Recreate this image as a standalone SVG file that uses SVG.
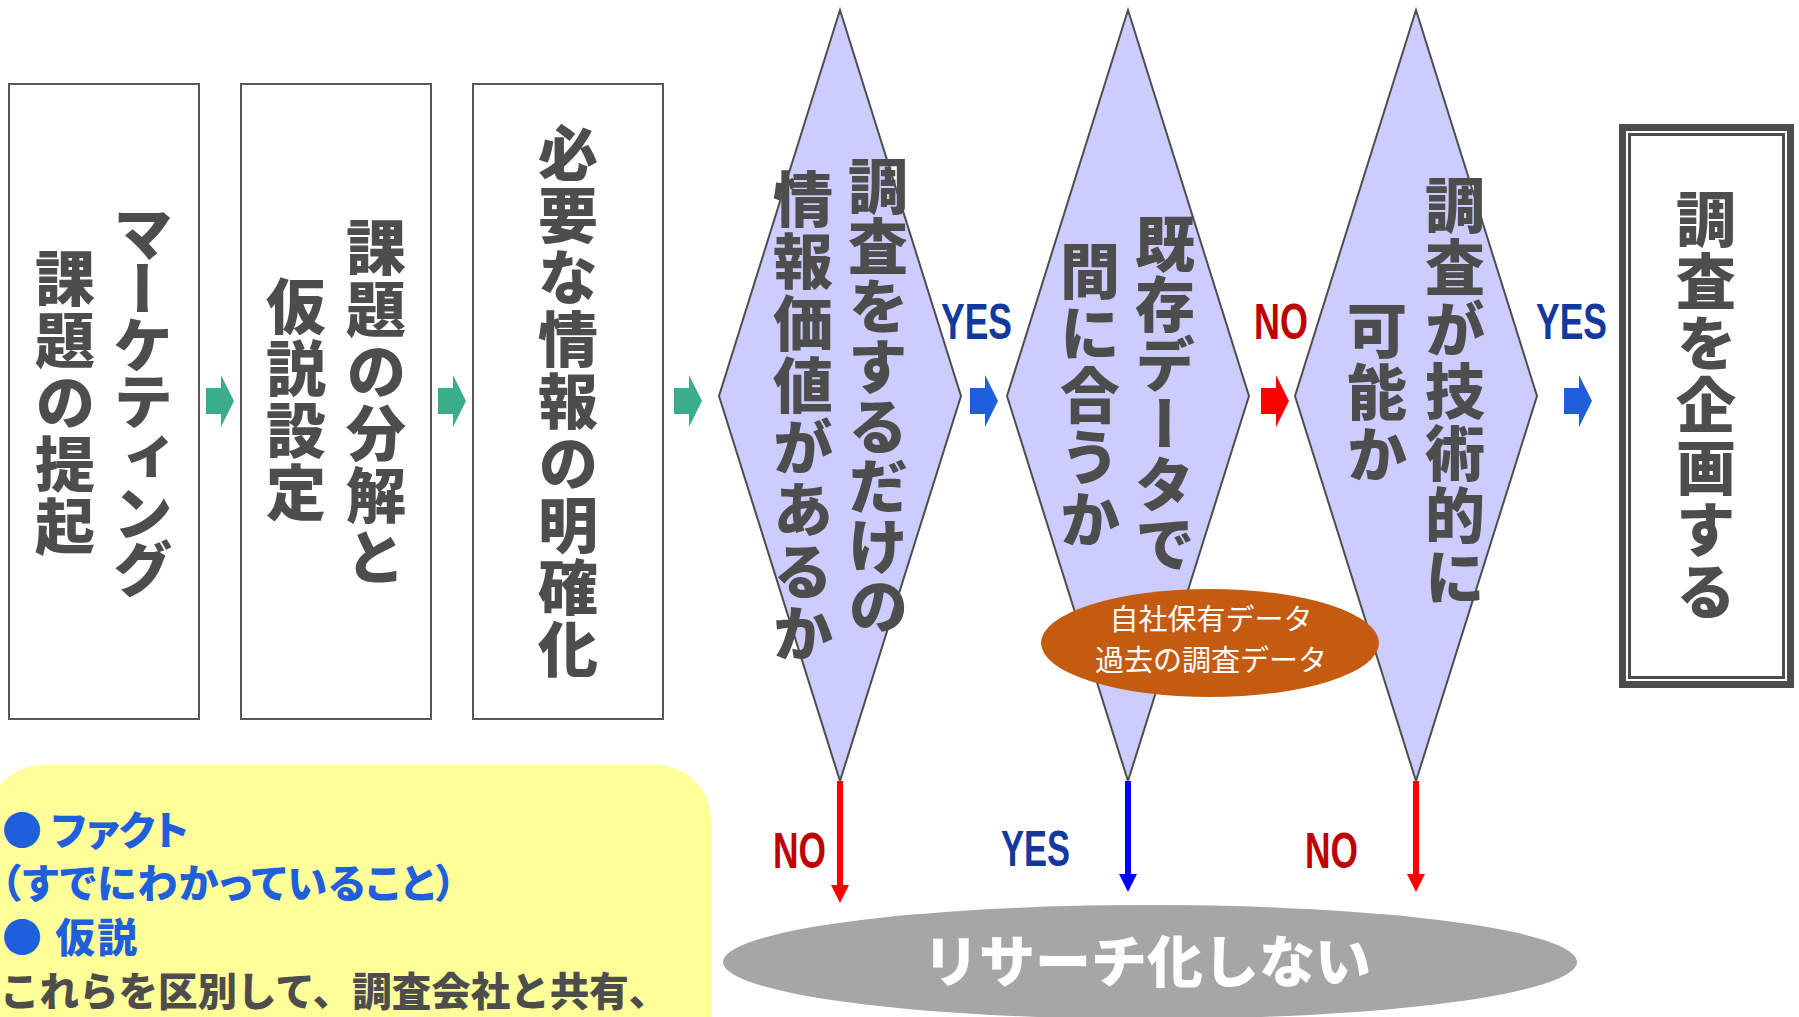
<svg xmlns="http://www.w3.org/2000/svg" width="1799" height="1017" viewBox="0 0 1799 1017">
<style>
.box{fill:#ffffff;stroke:#595959;stroke-width:2}
.dia{fill:#ccccff;stroke:#4d4d4d;stroke-width:2}
.vt{font-family:"Noto Sans CJK JP","Noto Sans CJK SC",sans-serif;font-weight:900;font-size:60px;fill:#4d4d4d;writing-mode:vertical-rl;text-anchor:middle;letter-spacing:2px}
.lbl{font-family:"Liberation Sans",Arial,sans-serif;font-weight:bold;font-size:50px}
.yes{fill:#123a9c}
.no{fill:#c00000}
.note{font-family:"Noto Sans CJK JP","Noto Sans CJK SC",sans-serif;font-weight:900}
.palt{font-feature-settings:"palt" 1}
.w{font-family:"Noto Sans CJK JP","Noto Sans CJK SC",sans-serif;fill:#ffffff}
</style>
<defs>
<path id="blk" d="M0,-13 H15 V-26 L28,0 L15,26 V13 H0 Z"/>
<marker id="hr" viewBox="0 0 18 18" markerWidth="18" markerHeight="18" refX="0" refY="9" orient="auto" markerUnits="userSpaceOnUse"><path d="M0,0 L18,9 L0,18 Z" fill="#ff0000"/></marker>
<marker id="hb" viewBox="0 0 18 18" markerWidth="18" markerHeight="18" refX="0" refY="9" orient="auto" markerUnits="userSpaceOnUse"><path d="M0,0 L18,9 L0,18 Z" fill="#0000ff"/></marker>
</defs>

<g id="note">
<rect x="-12" y="765" width="723" height="320" rx="55" ry="55" fill="#ffff99"/>
<text class="note palt" x="2" y="845" font-size="40" fill="#1f5fdc">● ファクト</text>
<text class="note palt" x="1" y="898" font-size="40" fill="#1f5fdc" letter-spacing="1.2">（すでにわかっていること）</text>
<text class="note palt" x="2" y="952" font-size="40" fill="#1f5fdc" letter-spacing="2">● 仮説</text>
<text class="note" x="0" y="1006" font-size="39.5" fill="#4d4d4d">これらを区別して、調査会社と共有、</text>
</g>

<g id="box1">
<rect class="box" x="9" y="84" width="190" height="635"/>
<text class="vt" x="143" y="399" style="letter-spacing:-4px">マーケティング</text>
<text class="vt" x="65" y="403">課題の提起</text>
</g>
<g id="box2">
<rect class="box" x="241" y="84" width="190" height="635"/>
<text class="vt" x="376" y="403">課題の分解と</text>
<text class="vt" x="296" y="400">仮説設定</text>
</g>
<g id="box3">
<rect class="box" x="473" y="84" width="190" height="635"/>
<text class="vt" x="568" y="402">必要な情報の明確化</text>
</g>

<g id="d1">
<polygon class="dia" points="840,10 961,396 840,781 719,396"/>
<text class="vt" x="878" y="396" style="letter-spacing:0px">調査をするだけの</text>
<text class="vt" x="803" y="417">情報価値があるか</text>
</g>
<g id="d2">
<polygon class="dia" points="1128,10 1249,396 1128,781 1007,396"/>
<text class="vt" x="1165" y="394" style="letter-spacing:0px">既存データで</text>
<text class="vt" x="1090" y="396">間に合うか</text>
</g>
<g id="d3">
<polygon class="dia" points="1416,10 1537,396 1416,781 1295,396"/>
<text class="vt" x="1455" y="392">調査が技術的に</text>
<text class="vt" x="1377" y="393">可能か</text>
</g>

<g id="data">
<ellipse cx="1210" cy="643" rx="169" ry="54" fill="#c55a11"/>
<text class="w" x="1211" y="630" font-size="29" text-anchor="middle">自社保有データ</text>
<text class="w" x="1211" y="671" font-size="29" text-anchor="middle">過去の調査データ</text>
</g>

<g id="final">
<rect x="1622.5" y="127.5" width="168" height="557" fill="#ffffff" stroke="#4d4d4d" stroke-width="7"/>
<rect x="1629.5" y="134.5" width="154" height="543" fill="none" stroke="#4d4d4d" stroke-width="3"/>
<text class="vt" x="1706" y="406">調査を企画する</text>
</g>

<g id="noresearch">
<ellipse cx="1150" cy="962" rx="427" ry="57" fill="#a6a6a6"/>
<text x="1147" y="982" font-family="'Noto Sans CJK JP','Noto Sans CJK SC',sans-serif" font-weight="900" font-size="56" fill="#ffffff" text-anchor="middle">リサーチ化しない</text>
</g>

<g id="connectors">
<use href="#blk" x="206" y="401" fill="#3aae8b"/>
<use href="#blk" x="438" y="401" fill="#3aae8b"/>
<use href="#blk" x="674" y="401" fill="#3aae8b"/>
<use href="#blk" x="970" y="401" fill="#1f5fdc"/>
<use href="#blk" x="1261" y="401" fill="#ff0000"/>
<use href="#blk" x="1564" y="401" fill="#1f5fdc"/>
<line x1="840" y1="781" x2="840" y2="885" stroke="#ff0000" stroke-width="6" marker-end="url(#hr)"/>
<line x1="1128" y1="781" x2="1128" y2="874" stroke="#0000ff" stroke-width="6" marker-end="url(#hb)"/>
<line x1="1416" y1="781" x2="1416" y2="874" stroke="#ff0000" stroke-width="6" marker-end="url(#hr)"/>
<text class="lbl yes" x="941" y="339" textLength="71" lengthAdjust="spacingAndGlyphs">YES</text>
<text class="lbl no" x="1254" y="339" textLength="54" lengthAdjust="spacingAndGlyphs">NO</text>
<text class="lbl yes" x="1536" y="339" textLength="71" lengthAdjust="spacingAndGlyphs">YES</text>
<text class="lbl no" x="773" y="868" textLength="53" lengthAdjust="spacingAndGlyphs">NO</text>
<text class="lbl yes" x="1001" y="866" textLength="69" lengthAdjust="spacingAndGlyphs">YES</text>
<text class="lbl no" x="1305" y="868" textLength="53" lengthAdjust="spacingAndGlyphs">NO</text>
</g>
</svg>
